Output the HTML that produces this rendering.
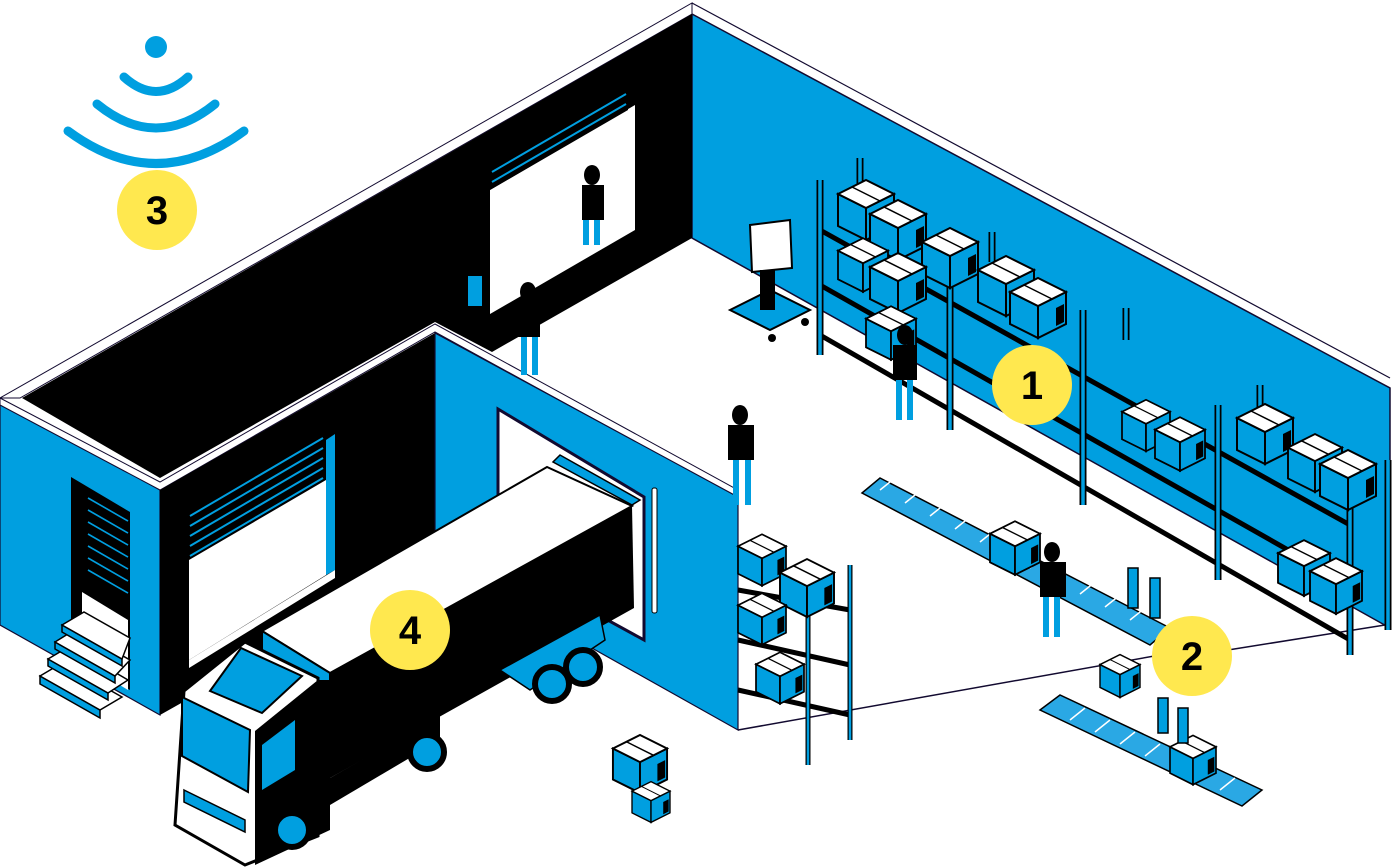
<!DOCTYPE html>
<html><head><meta charset="utf-8"><style>
html,body{margin:0;padding:0;background:#fff;width:1395px;height:868px;overflow:hidden}
svg{display:block}
text{font-family:"Liberation Sans",sans-serif;font-weight:bold}
</style></head><body>
<svg width="1395" height="868" viewBox="0 0 1395 868" xmlns="http://www.w3.org/2000/svg">
<defs>
<symbol id="cube" viewBox="0 0 56 60" overflow="visible">
<polygon points="0,14 28,28 28,60 0,46" fill="#009fe0" stroke="#000" stroke-width="2"/>
<polygon points="28,28 56,14 56,46 28,60" fill="#009fe0" stroke="#000" stroke-width="2"/>
<polygon points="0,14 28,0 56,14 28,28" fill="#fff" stroke="#000" stroke-width="2"/>
<line x1="14" y1="7" x2="42" y2="21" stroke="#000" stroke-width="1.5"/>
<polygon points="46,30 54,26 54,44 46,48" fill="#000"/>
</symbol>
</defs>
<!-- back right blue wall -->
<polygon points="692,14 1390,388 1390,628 692,238" fill="#009fe0" stroke="#120a30" stroke-width="1.5"/>
<polyline points="692,3 1390,378" fill="none" stroke="#120a30" stroke-width="1.2"/>
<!-- back black wall -->
<polygon points="0,398 692,3 692,14 20,398" fill="#fff" stroke="#120a30" stroke-width="1"/>
<polygon points="22,398 692,14 692,238 492,352 435,322 160,478" fill="#000"/>
<!-- back window -->
<polygon points="490,190 635,105 635,230 490,314" fill="#fff"/>
<polygon points="490,190 628,110 628,85 490,165" fill="#000"/>
<g stroke="#009fe0" stroke-width="2">
<line x1="492" y1="172" x2="626" y2="94"/><line x1="492" y1="182" x2="626" y2="104"/>
</g>
<rect x="468" y="276" width="14" height="30" fill="#009fe0"/>
<!-- left outer blue wall -->
<polygon points="0,400 160,490 160,715 0,625" fill="#009fe0" stroke="#120a30" stroke-width="1.2"/>
<!-- roof strip front building -->
<polygon points="0,398 160,482 435,324 738,490 738,498 435,332 160,490 0,405" fill="#fff" stroke="#120a30" stroke-width="1"/>
<!-- left door -->
<polygon points="71,477 130,512 130,690 71,656" fill="#000"/>
<g stroke="#009fe0" stroke-width="1.6">
<line x1="88" y1="498" x2="128" y2="521"/><line x1="88" y1="510" x2="128" y2="533"/><line x1="88" y1="522" x2="128" y2="545"/><line x1="88" y1="534" x2="128" y2="557"/><line x1="88" y1="546" x2="128" y2="569"/><line x1="88" y1="558" x2="128" y2="581"/><line x1="88" y1="570" x2="128" y2="593"/>
</g>
<polygon points="82,592 128,620 128,690 82,662" fill="#fff"/>
<!-- stairs -->
<polygon points="40,676 100,710 100,718 40,684" fill="#009fe0" stroke="#000" stroke-width="1.5"/>
<polygon points="40,676 62,663 122,697 100,710" fill="#fff" stroke="#000" stroke-width="1.5"/>
<polygon points="48,659 108,693 108,700 48,666" fill="#009fe0" stroke="#000" stroke-width="1.5"/>
<polygon points="48,659 70,646 128,680 108,693" fill="#fff" stroke="#000" stroke-width="1.5"/>
<polygon points="55,642 115,676 115,683 55,649" fill="#009fe0" stroke="#000" stroke-width="1.5"/>
<polygon points="55,642 76,629 130,660 115,676" fill="#fff" stroke="#000" stroke-width="1.5"/>
<polygon points="62,625 122,659 122,666 62,632" fill="#009fe0" stroke="#000" stroke-width="1.5"/>
<polygon points="62,625 84,612 130,638 122,659" fill="#fff" stroke="#000" stroke-width="1.5"/>
<!-- front building black face -->
<polygon points="160,490 435,333 435,560 160,715" fill="#000"/>
<polygon points="189,560 326,480 326,575 189,660" fill="#fff"/>
<g stroke="#009fe0" stroke-width="2">
<line x1="190" y1="516" x2="323" y2="438"/><line x1="190" y1="526" x2="323" y2="448"/><line x1="190" y1="536" x2="323" y2="458"/><line x1="190" y1="546" x2="323" y2="468"/><line x1="190" y1="556" x2="323" y2="478"/>
</g>
<polygon points="326,440 335,434 335,570 326,575" fill="#009fe0"/>
<polygon points="189,660 335,570 335,578 189,668" fill="#fff"/>
<!-- front building blue face -->
<polygon points="435,333 738,497 738,730 435,560" fill="#009fe0" stroke="#120a30" stroke-width="1.2"/>
<polygon points="498,409 644,497 644,640 498,560" fill="#fff" stroke="#120a30" stroke-width="3"/>
<rect x="652" y="488" width="5" height="125" rx="2" fill="#fff" stroke="#000"/>
<!-- trailer -->
<polygon points="262,631 547,467 632,506 330,673" fill="#fff" stroke="#000" stroke-width="2"/>
<polygon points="553,462 632,505 640,500 560,455" fill="#009fe0" stroke="#000" stroke-width="1.5"/>
<polygon points="330,673 632,506 634,608 330,778" fill="#000"/>
<polygon points="262,631 330,673 330,720 262,680" fill="#009fe0" stroke="#000" stroke-width="2"/>
<polygon points="500,670 600,615 605,640 530,690" fill="#009fe0" stroke="#000" stroke-width="1.5"/>
<circle cx="552" cy="684" r="17" fill="#009fe0" stroke="#000" stroke-width="6"/>
<circle cx="583" cy="667" r="17" fill="#009fe0" stroke="#000" stroke-width="6"/>
<polygon points="330,778 440,715 440,740 330,805" fill="#000"/>
<circle cx="427" cy="752" r="17" fill="#009fe0" stroke="#000" stroke-width="6"/>
<!-- cab -->
<polygon points="184,691 245,642 318,678 318,836 245,865 175,825" fill="#fff" stroke="#000" stroke-width="3"/>
<polygon points="210,691 241,648 302,676 262,713" fill="#009fe0" stroke="#000" stroke-width="2"/>
<polygon points="182,697 250,730 248,792 182,756" fill="#009fe0" stroke="#000" stroke-width="2"/>
<polygon points="184,790 245,820 245,832 184,802" fill="#009fe0" stroke="#000" stroke-width="1.5"/>
<polygon points="255,731 318,680 330,680 330,830 255,865" fill="#000"/>
<polygon points="262,745 295,720 295,770 262,790" fill="#009fe0"/>
<circle cx="292" cy="830" r="17" fill="#009fe0" stroke="#000" stroke-width="6"/>
<!-- floor lines -->
<polyline points="738,730 1160,655" fill="none" stroke="#120a30" stroke-width="1.5"/>
<polyline points="1228,650 1385,625" fill="none" stroke="#120a30" stroke-width="1.5"/>
<!-- big shelves right -->
<g stroke="#000" stroke-width="5">
<line x1="820" y1="230" x2="1350" y2="525"/><line x1="820" y1="285" x2="1350" y2="585"/><line x1="820" y1="335" x2="1350" y2="640"/>
</g>
<g stroke="#000" stroke-width="7" fill="none">
<line x1="820" y1="180" x2="820" y2="355"/><line x1="950" y1="240" x2="950" y2="430"/>
<line x1="1083" y1="310" x2="1083" y2="505"/><line x1="1218" y1="405" x2="1218" y2="580"/><line x1="1350" y1="470" x2="1350" y2="655"/>
<line x1="860" y1="158" x2="860" y2="195"/><line x1="992" y1="232" x2="992" y2="262"/><line x1="1126" y1="308" x2="1126" y2="340"/><line x1="1260" y1="385" x2="1260" y2="412"/><line x1="1388" y1="460" x2="1388" y2="630"/>
</g>
<g stroke="#009fe0" stroke-width="3.5" fill="none">
<line x1="820" y1="180" x2="820" y2="355"/><line x1="950" y1="240" x2="950" y2="430"/>
<line x1="1083" y1="310" x2="1083" y2="505"/><line x1="1218" y1="405" x2="1218" y2="580"/><line x1="1350" y1="470" x2="1350" y2="655"/>
<line x1="860" y1="158" x2="860" y2="195"/><line x1="992" y1="232" x2="992" y2="262"/><line x1="1126" y1="308" x2="1126" y2="340"/><line x1="1260" y1="385" x2="1260" y2="412"/><line x1="1388" y1="460" x2="1388" y2="630"/>
</g>
<!-- boxes -->
<use href="#cube" x="838" y="180" width="56" height="60"/>
<use href="#cube" x="870" y="200" width="56" height="60"/>
<use href="#cube" x="922" y="228" width="56" height="60"/>
<use href="#cube" x="978" y="256" width="56" height="60"/>
<use href="#cube" x="1010" y="278" width="56" height="60"/>
<use href="#cube" x="838" y="238" width="50" height="54"/>
<use href="#cube" x="870" y="253" width="56" height="60"/>
<use href="#cube" x="866" y="306" width="50" height="54"/>
<use href="#cube" x="1230" y="404" width="70" height="60"/>
<use href="#cube" x="1288" y="433" width="54" height="60"/>
<use href="#cube" x="1320" y="450" width="56" height="60"/>
<use href="#cube" x="1122" y="398" width="48" height="55"/>
<use href="#cube" x="1155" y="416" width="50" height="56"/>
<use href="#cube" x="1278" y="540" width="52" height="56"/>
<use href="#cube" x="1310" y="558" width="52" height="56"/>
<!-- left small shelf -->
<g stroke="#000" stroke-width="5"><line x1="808" y1="580" x2="808" y2="765"/><line x1="850" y1="565" x2="850" y2="740"/>
<line x1="738" y1="590" x2="850" y2="610"/><line x1="738" y1="640" x2="850" y2="665"/><line x1="738" y1="690" x2="850" y2="715"/></g>
<g stroke="#009fe0" stroke-width="2.5"><line x1="808" y1="580" x2="808" y2="765"/><line x1="850" y1="565" x2="850" y2="740"/></g>
<use href="#cube" x="738" y="530" width="48" height="60"/>
<use href="#cube" x="780" y="558" width="54" height="60"/>
<use href="#cube" x="738" y="592" width="48" height="54"/>
<use href="#cube" x="756" y="650" width="48" height="56"/>
<use href="#cube" x="612" y="735" width="56" height="58"/>
<use href="#cube" x="632" y="780" width="38" height="44"/>
<!-- cart/monitor -->
<polygon points="730,310 770,290 810,310 770,330" fill="#009fe0" stroke="#000" stroke-width="2"/>
<polygon points="750,225 790,220 792,268 752,272" fill="#fff" stroke="#000" stroke-width="2"/>
<rect x="760" y="270" width="15" height="40" fill="#000"/>
<circle cx="772" cy="338" r="4" fill="#000"/><circle cx="805" cy="322" r="4" fill="#000"/>
<!-- conveyors -->
<g fill="#2aa8e4" stroke="#000" stroke-width="1.5">
<polygon points="862,493 880,478 1170,628 1150,645"/>
<polygon points="1040,710 1060,695 1262,790 1242,806"/>
</g>
<g stroke="#fff" stroke-width="1.5">
<line x1="880" y1="490" x2="895" y2="478"/><line x1="905" y1="503" x2="920" y2="491"/><line x1="930" y1="516" x2="945" y2="504"/><line x1="955" y1="529" x2="970" y2="517"/><line x1="980" y1="542" x2="995" y2="530"/><line x1="1005" y1="555" x2="1020" y2="543"/><line x1="1030" y1="568" x2="1045" y2="556"/><line x1="1055" y1="581" x2="1070" y2="569"/><line x1="1080" y1="594" x2="1095" y2="582"/><line x1="1105" y1="607" x2="1120" y2="595"/><line x1="1130" y1="620" x2="1145" y2="608"/>
<line x1="1070" y1="720" x2="1085" y2="708"/><line x1="1095" y1="732" x2="1110" y2="720"/><line x1="1120" y1="744" x2="1135" y2="732"/><line x1="1145" y1="756" x2="1160" y2="744"/><line x1="1170" y1="768" x2="1185" y2="756"/><line x1="1195" y1="779" x2="1210" y2="767"/><line x1="1220" y1="790" x2="1235" y2="778"/>
</g>
<use href="#cube" x="990" y="520" width="50" height="56"/>
<use href="#cube" x="1100" y="654" width="40" height="44"/>
<use href="#cube" x="1170" y="733" width="46" height="54"/>
<g fill="#009fe0" stroke="#000" stroke-width="1.5"><rect x="1128" y="568" width="10" height="40"/><rect x="1150" y="578" width="10" height="40"/><rect x="1158" y="698" width="10" height="35"/><rect x="1178" y="708" width="10" height="35"/></g>
<!-- people -->
<g fill="#000">
<ellipse cx="592" cy="175" rx="8" ry="10"/><rect x="582" y="185" width="22" height="35"/><rect x="583" y="220" width="6" height="25" fill="#009fe0"/><rect x="594" y="220" width="6" height="25" fill="#009fe0"/>
<ellipse cx="528" cy="292" rx="8" ry="10"/><rect x="518" y="302" width="22" height="35"/><rect x="521" y="337" width="6" height="38" fill="#009fe0"/><rect x="532" y="337" width="6" height="38" fill="#009fe0"/>
<ellipse cx="740" cy="415" rx="8" ry="10"/><rect x="728" y="425" width="26" height="35"/><rect x="733" y="460" width="6" height="45" fill="#009fe0"/><rect x="745" y="460" width="6" height="45" fill="#009fe0"/>
<ellipse cx="905" cy="335" rx="8" ry="10"/><rect x="893" y="345" width="24" height="35"/><rect x="896" y="380" width="6" height="40" fill="#009fe0"/><rect x="907" y="380" width="6" height="40" fill="#009fe0"/>
<ellipse cx="1052" cy="552" rx="8" ry="10"/><rect x="1040" y="562" width="26" height="35"/><rect x="1043" y="597" width="6" height="40" fill="#009fe0"/><rect x="1054" y="597" width="6" height="40" fill="#009fe0"/>
</g>
<!-- wifi -->
<circle cx="156" cy="47" r="11" fill="#009fe0"/>
<g fill="none" stroke="#009fe0" stroke-width="9" stroke-linecap="round">
<path d="M124,77 Q156,106 188,77"/><path d="M97,104 Q156,152 215,104"/><path d="M68,131 Q156,196 244,131"/>
</g>
<!-- badges -->
<g fill="#ffe84f"><circle cx="157" cy="210" r="40"/><circle cx="1032" cy="385" r="40"/><circle cx="1192" cy="656" r="40"/><circle cx="410" cy="630" r="40"/></g>
<g font-size="40" fill="#000" text-anchor="middle">
<text x="157" y="224">3</text><text x="1032" y="399">1</text><text x="1192" y="670">2</text><text x="410" y="644">4</text>
</g>
</svg>
</body></html>
